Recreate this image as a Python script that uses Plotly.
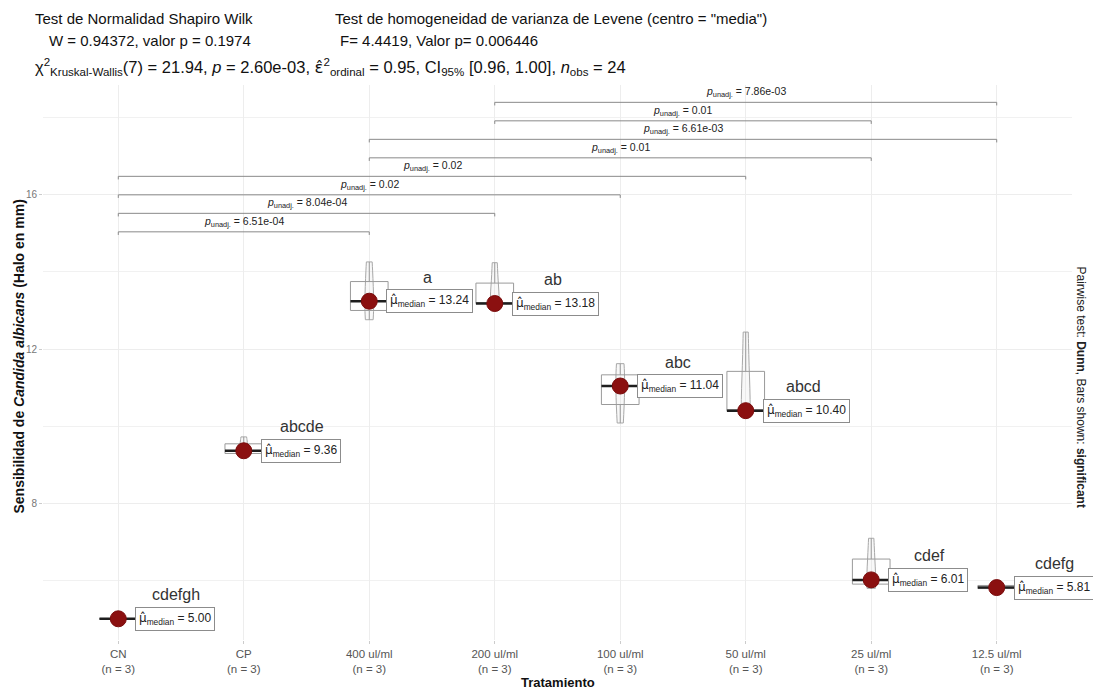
import numpy as np
import plotly.graph_objects as go

# Treatments and the three halo measurements (mm) per treatment
treatments = ["CN", "CP", "400 ul/ml", "200 ul/ml", "100 ul/ml", "50 ul/ml", "25 ul/ml", "12.5 ul/ml"]
halo_cn = [5.00, 5.00, 5.00]
halo_cp = [9.22, 9.36, 9.72]
halo_400 = [12.76, 13.24, 14.26]
halo_200 = [13.18, 13.18, 14.24]
halo_100 = [10.08, 11.04, 11.62]
halo_50 = [10.40, 10.40, 12.44]
halo_25 = [5.79, 6.01, 7.09]
halo_12_5 = [5.76, 5.81, 5.92]
groups = [halo_cn, halo_cp, halo_400, halo_200, halo_100, halo_50, halo_25, halo_12_5]

# Compact letter display per treatment
letters = ["cdefgh", "abcde", "a", "ab", "abc", "abcd", "cdef", "cdefg"]

# Significant Dunn pairwise comparisons (unadjusted p)
pair_a = ["CN", "CN", "CN", "CN", "400 ul/ml", "400 ul/ml", "200 ul/ml", "200 ul/ml"]
pair_b = ["400 ul/ml", "200 ul/ml", "100 ul/ml", "50 ul/ml", "25 ul/ml", "12.5 ul/ml", "25 ul/ml", "12.5 ul/ml"]
pair_p = ["6.51e-04", "8.04e-04", "0.02", "0.02", "0.01", "6.61e-03", "0.01", "7.86e-03"]

BOX_W = 0.30
GREY = "#9a9a9a"
FONT = "Liberation Sans, Arial, sans-serif"
HAT = '<span style="font-family:DejaVu Sans">{}</span>'
MU_HAT = HAT.format("μ̂")
EPS_HAT = HAT.format("ε̂")

fig = go.Figure()
xpos = list(range(len(treatments)))

for i, vals in enumerate(groups):
    fig.add_trace(go.Box(
        x=[i] * len(vals), y=vals, width=BOX_W, boxpoints=False,
        line=dict(color=GREY, width=1), fillcolor="rgba(255,255,255,0)",
        whiskerwidth=0, quartilemethod="inclusive", showlegend=False, hoverinfo="skip"))

for i, vals in enumerate(groups):
    if np.ptp(vals) > 0:
        fig.add_trace(go.Violin(
            x=[i] * len(vals), y=vals, width=0.07, scalemode="width", spanmode="hard",
            points=False, box_visible=False, meanline_visible=False,
            line=dict(color="#a8a8a8", width=1), fillcolor="rgba(220,220,220,0.2)",
            showlegend=False, hoverinfo="skip"))

medians = [float(np.median(v)) for v in groups]

# median segment across each box
for i, m in enumerate(medians):
    fig.add_trace(go.Scatter(
        x=[i - BOX_W / 2, i + BOX_W / 2], y=[m, m], mode="lines",
        line=dict(color="#1e1e1e", width=2.5), showlegend=False, hoverinfo="skip"))

fig.add_trace(go.Scatter(
    x=xpos, y=medians, mode="markers",
    marker=dict(color="#8b1010", size=16, line=dict(color="#7a0c0c", width=1)),
    showlegend=False, hoverinfo="skip"))

annotations = []
for i, m in enumerate(medians):
    annotations.append(dict(
        x=i, y=m, xref="x", yref="y", xanchor="left", yanchor="middle", xshift=17,
        text=MU_HAT + "<sub>median</sub> = %.2f" % m, showarrow=False,
        font=dict(family=FONT, size=12, color="#222"),
        bordercolor="#8c8c8c", borderwidth=1, borderpad=3, bgcolor="white"))
    annotations.append(dict(
        x=i, y=m + 0.62, xref="x", yref="y", xanchor="center", yanchor="middle", xshift=58,
        text=letters[i], showarrow=False, font=dict(family=FONT, size=16, color="#333")))

shapes = []
BR_START, BR_STEP, TIP = 15.04, 0.48, 0.08
for k, (a, b, p) in enumerate(zip(pair_a, pair_b, pair_p)):
    x1, x2 = treatments.index(a), treatments.index(b)
    yb = BR_START + k * BR_STEP
    shapes.append(dict(
        type="path", xref="x", yref="y",
        path=f"M {x1},{yb - TIP} L {x1},{yb} L {x2},{yb} L {x2},{yb - TIP}",
        line=dict(color="#8a8a8a", width=1)))
    annotations.append(dict(
        x=(x1 + x2) / 2, y=yb, xref="x", yref="y", xanchor="center", yanchor="bottom", yshift=1,
        text=f"<i>p</i><sub>unadj.</sub> = {p}", showarrow=False,
        font=dict(family=FONT, size=10.5, color="#222")))

# header texts above the panel
header = [
    (-10, 67, "Test de Normalidad Shapiro Wilk", 15),
    (4, 45, "W = 0.94372, valor p = 0.1974", 15),
    (290, 67, "Test de homogeneidad de varianza de Levene (centro = \"media\")", 15),
    (295, 45, "F= 4.4419, Valor p= 0.006446", 15),
    (-10, 18, "χ<sup>2</sup><sub>Kruskal-Wallis</sub>(7) = 21.94, <i>p</i> = 2.60e-03, "
              + EPS_HAT + "<sup>2</sup><sub>ordinal</sub> = 0.95, CI<sub>95%</sub> [0.96, 1.00], "
              "<i>n</i><sub>obs</sub> = 24", 16.5),
]
for dx, dy, txt, sz in header:
    annotations.append(dict(
        x=0, y=1, xref="paper", yref="paper", xanchor="left", yanchor="middle",
        xshift=dx, yshift=dy, text=txt, showarrow=False,
        font=dict(family=FONT, size=sz, color="#111")))

annotations.append(dict(
    x=0, y=0.5, xref="paper", yref="paper", xanchor="center", yanchor="middle",
    xshift=-25, yshift=6, textangle=-90, showarrow=False,
    text="<b>Sensibilidad de <i>Candida albicans</i> (Halo en mm)</b>",
    font=dict(family=FONT, size=14, color="#111")))
annotations.append(dict(
    x=0.5, y=0, xref="paper", yref="paper", xanchor="center", yanchor="middle",
    yshift=-42, showarrow=False, text="<b>Tratamiento</b>",
    font=dict(family=FONT, size=13, color="#111")))
annotations.append(dict(
    x=1, y=0.5, xref="paper", yref="paper", xanchor="center", yanchor="middle",
    xshift=9, yshift=-24, textangle=90, showarrow=False,
    text="Pairwise test: <b>Dunn</b>, Bars shown: <b>significant</b>",
    font=dict(family=FONT, size=12, color="#222")))

ticktext = [f"{t}<br>(n = {len(v)})" for t, v in zip(treatments, groups)]

fig.update_layout(
    width=1093, height=689, autosize=False,
    margin=dict(l=43, r=21, t=85, b=49),
    paper_bgcolor="white", plot_bgcolor="white",
    shapes=shapes, annotations=annotations,
    xaxis=dict(range=[-0.6, 7.6], tickvals=xpos, ticktext=ticktext, showgrid=True,
               gridcolor="#ededed", zeroline=False, ticks="outside", ticklen=3,
               tickcolor="#cccccc", tickfont=dict(family=FONT, size=11.5, color="#555")),
    yaxis=dict(range=[4.45, 18.85], tickvals=[8, 12, 16], showgrid=True, gridcolor="#ededed",
               zeroline=False, ticks="outside", ticklen=3, tickcolor="#cccccc",
               tickfont=dict(family=FONT, size=10, color="#777"),
               minor=dict(tickvals=[6, 10, 14, 18], showgrid=True, gridcolor="#f1f1f1", ticks="")),
    violinmode="overlay", boxmode="overlay",
)

fig.write_html("out.html")
